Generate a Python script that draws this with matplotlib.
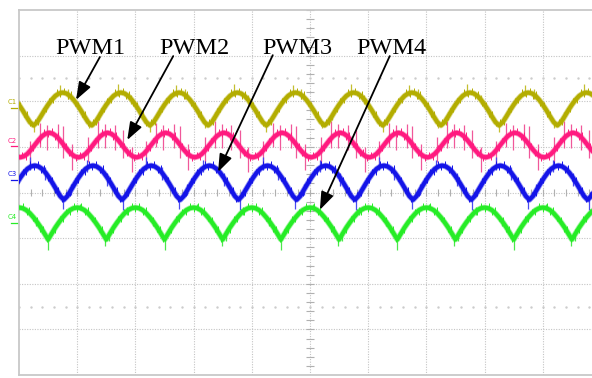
import numpy as np
import matplotlib.pyplot as plt

# oscilloscope screen: 10 x 8 divisions, one period = 1 div
channels = ['C1', 'C2', 'C3', 'C4']
colors = ['#b3ad00', '#ff1a7f', '#1414e8', '#26ec26']
spike_colors = ['#c4bf30', '#f0589a', '#4a4af0', '#4ae84a']
peak_levels = [6.19, 5.31, 4.59, 3.67]
trough_levels = [5.47, 4.77, 3.84, 2.97]
peak_times = [0.75, 0.52, 0.27, 1.00]
label_levels = [5.94, 5.09, 4.36, 3.42]

# one period of each trace, 16 samples starting at the peak (1 = peak, -1 = trough)
profile_c1 = [1.0, 0.95, 0.80, 0.56, 0.26, -0.08, -0.45, -0.80, -1.0, -0.80, -0.45, -0.08, 0.26, 0.56, 0.80, 0.95]
profile_c2 = [1.0, 0.92, 0.71, 0.38, 0.0, -0.38, -0.71, -0.92, -1.0, -0.92, -0.71, -0.38, 0.0, 0.38, 0.71, 0.92]
profile_c3 = [1.0, 0.95, 0.81, 0.58, 0.28, -0.06, -0.42, -0.78, -1.0, -0.78, -0.42, -0.06, 0.28, 0.58, 0.81, 0.95]
profile_c4 = [1.0, 0.96, 0.84, 0.64, 0.38, 0.08, -0.25, -0.62, -1.0, -0.62, -0.25, 0.08, 0.38, 0.64, 0.84, 0.96]
profiles = [profile_c1, profile_c2, profile_c3, profile_c4]

# switching spikes over two periods: (time after peak, length up, length down)
spikes_c1 = [(-0.05, 0.18, 0.05), (0.1, 0.12, 0.08), (0.45, 0.05, 0.12), (0.62, 0.1, 0.06),
             (0.95, 0.2, 0.05), (1.18, 0.1, 0.1), (1.5, 0.06, 0.14)]
spikes_c2 = [(-0.33, 0.22, 0.3), (-0.16, 0.35, 0.18), (-0.04, 0.18, 0.36), (0.15, 0.3, 0.22),
             (0.24, 0.4, 0.3), (0.39, 0.22, 0.34), (0.67, 0.3, 0.25), (0.84, 0.38, 0.2),
             (0.96, 0.2, 0.32), (1.13, 0.25, 0.3), (1.27, 0.36, 0.26), (1.42, 0.2, 0.35)]
spikes_c3 = [(-0.08, 0.22, 0.06), (0.18, 0.12, 0.16), (0.48, 0.05, 0.22), (0.62, 0.15, 0.1),
             (0.9, 0.18, 0.08), (1.25, 0.1, 0.18), (1.52, 0.06, 0.25)]
spikes_c4 = [(0.05, 0.1, 0.05), (0.48, 0.04, 0.18), (0.55, 0.06, 0.14), (0.85, 0.1, 0.08),
             (1.3, 0.08, 0.1), (1.5, 0.05, 0.22)]
spikes = [spikes_c1, spikes_c2, spikes_c3, spikes_c4]

# fine noise hairs on every trace, one period: (time after peak, length)
hairs = [(0.03, 0.08), (0.09, 0.06), (0.14, 0.09), (0.21, 0.05), (0.27, 0.07), (0.33, 0.06),
         (0.38, 0.08), (0.44, 0.05), (0.52, 0.07), (0.58, 0.06), (0.66, 0.08), (0.71, 0.05),
         (0.77, 0.07), (0.83, 0.06), (0.9, 0.08), (0.96, 0.05)]

# annotation: label, text position, arrow tip
pwm_labels = ['PWM1', 'PWM2', 'PWM3', 'PWM4']
text_pos = [(1.22, 7.035), (3.01, 7.035), (4.79, 7.035), (6.39, 7.035)]
arrow_start = [(1.39, 6.97), (2.65, 6.99), (4.36, 7.01), (6.37, 6.99)]
arrow_tip = [(0.98, 6.03), (1.86, 5.15), (3.42, 4.45), (5.17, 3.62)]

fig = plt.figure(figsize=(5.92, 3.78), dpi=100)
ax = fig.add_axes([19 / 592, 3 / 378, 582 / 592, 365 / 378])
ax.set_xlim(0, 10)
ax.set_ylim(0, 8)

# graticule
grid_col = '#c4c4c4'
for x in range(1, 10):
    ax.axvline(x, color=grid_col, lw=0.8, ls=(0, (1, 1.3)), zorder=0)
for y in range(1, 8):
    ax.axhline(y, color=grid_col, lw=0.8, ls=(0, (1, 1.3)), zorder=0)
ticks = np.arange(0, 10.01, 0.2)
ax.vlines(ticks, 3.93, 4.07, color='#b0b0b0', lw=0.8, zorder=0)
vticks = np.arange(0, 8.01, 0.2)
ax.hlines(vticks, 4.93, 5.07, color='#b0b0b0', lw=0.8, zorder=0)
for y in [1.5, 6.5]:
    ax.plot(ticks, np.full(len(ticks), y), ls='none', marker='s', ms=0.7, color='#cccccc', zorder=0)

for i, ch in enumerate(channels):
    prof = np.array(profiles[i])
    n_per = len(prof)
    vals = np.tile(prof, 13)
    t = peak_times[i] - 2 + np.arange(len(vals)) / n_per
    mid = (peak_levels[i] + trough_levels[i]) / 2
    amp = (peak_levels[i] - trough_levels[i]) / 2
    v = mid + amp * vals
    for k in range(-2, 11, 2):
        for ph, up, dn in spikes[i]:
            tt = peak_times[i] + k + ph
            base = np.interp(tt, t, v)
            ax.vlines(tt, base - dn, base + up, color=spike_colors[i], lw=0.9, zorder=2)
    for k in range(-1, 11):
        for j, (ph, ln) in enumerate(hairs):
            tt = peak_times[i] + k + ph + 0.013 * i
            base = np.interp(tt, t, v)
            if j % 2:
                ax.vlines(tt, base - ln - 0.04, base, color=colors[i], lw=0.7, zorder=3)
            else:
                ax.vlines(tt, base, base + ln + 0.04, color=colors[i], lw=0.7, zorder=3)
    ax.plot(t, v, color=colors[i], lw=4.2, alpha=0.45, solid_capstyle='round', zorder=3)
    ax.plot(t, v, color=colors[i], lw=3.0, solid_capstyle='round', zorder=4)
    ax.text(-0.19, label_levels[i], ch, color=colors[i], fontsize=5, clip_on=False,
            ha='left', va='baseline')
    ax.plot([-0.14, -0.01], [label_levels[i] - 0.08] * 2, color=colors[i], lw=0.9, clip_on=False)

for i, lab in enumerate(pwm_labels):
    ax.text(text_pos[i][0], text_pos[i][1], lab, fontsize=17.5, family='Liberation Serif',
            ha='center', va='baseline', zorder=5)
    ax.annotate('', xy=arrow_tip[i], xytext=arrow_start[i],
                arrowprops=dict(arrowstyle='-|>,head_length=0.6,head_width=0.22',
                                mutation_scale=18, color='black', lw=1.3,
                                shrinkA=0, shrinkB=0), zorder=6)

for side in ['top', 'left', 'bottom']:
    ax.spines[side].set_color('#c8c8c8')
    ax.spines[side].set_linewidth(1.3)
ax.spines['right'].set_visible(False)
ax.set_xticks([])
ax.set_yticks([])

fig.savefig('out.png', dpi=100)
